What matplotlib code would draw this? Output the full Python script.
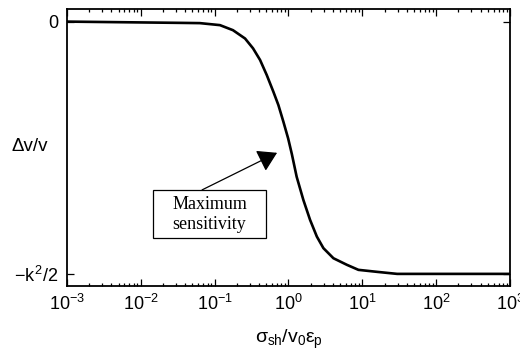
import matplotlib
matplotlib.use('Agg')
import matplotlib.pyplot as plt
from matplotlib.patches import Rectangle
from matplotlib.ticker import LogLocator, NullFormatter

# ====== DATA ====== #
sigma_ratio = [1e-3, 0.034, 0.063, 0.118, 0.177, 0.258, 0.331, 0.412, 0.508,
               0.624, 0.730, 0.853, 0.989, 1.11, 1.29, 1.59, 1.96, 2.42,
               2.97, 4.06, 6.17, 8.85, 15.9, 29.6, 1e3]
dv_over_v = [0.0, -0.005, -0.006, -0.014, -0.034, -0.067, -0.106, -0.152,
             -0.212, -0.278, -0.331, -0.397, -0.463, -0.525, -0.615, -0.707,
             -0.786, -0.852, -0.898, -0.938, -0.964, -0.984, -0.992, -1.0,
             -1.0]   # in units of k^2/2

ytick_vals = [-1.0, 0.0]
ytick_labels = [r'$-k^2/2$', '0']
xtick_vals = [1e-3, 1e-2, 1e-1, 1e0, 1e1, 1e2, 1e3]
arrow_target = (0.70, -0.52)   # point of maximum slope

plt.rcParams['font.family'] = ['Liberation Sans', 'DejaVu Sans']
plt.rcParams['mathtext.fontset'] = 'custom'
plt.rcParams['mathtext.rm'] = 'Liberation Sans'
plt.rcParams['mathtext.it'] = 'Liberation Sans'
plt.rcParams['mathtext.bf'] = 'Liberation Sans:bold'

fig = plt.figure(figsize=(5.2, 3.54), dpi=100)
ax = fig.add_axes([0.1288, 0.1921, 0.852, 0.7825])

ax.plot(sigma_ratio, dv_over_v, color='black', lw=1.9)

ax.set_xscale('log')
ax.set_xlim(1e-3, 1e3)
ax.set_ylim(-1.048, 0.05)

ax.set_xticks(xtick_vals)
ax.xaxis.set_minor_locator(LogLocator(base=10, subs=range(2, 10), numticks=20))
ax.xaxis.set_minor_formatter(NullFormatter())
ax.set_yticks(ytick_vals, ytick_labels)

ax.tick_params(which='both', direction='in', top=True, right=True,
               labelsize=13, width=0.9, pad=6)
ax.tick_params(which='major', length=5)
ax.tick_params(which='minor', length=2.5)
for sp in ax.spines.values():
    sp.set_linewidth(1.3)

ax.set_ylabel('Δv/v', rotation=0, fontsize=13.5, ha='center', va='center')
ax.yaxis.set_label_coords(-0.084, 0.502)
ax.set_xlabel(r'$\sigma_{\rm sh}/v_0\varepsilon_p$', fontsize=14, va='top')
ax.xaxis.set_label_coords(0.5, -0.15)

# ====== annotation box + arrow ====== #
box = Rectangle((0.194, 0.173), 0.255, 0.174, transform=ax.transAxes,
                facecolor='white', edgecolor='black', lw=0.9, zorder=3)
ax.add_patch(box)
ax.text(0.3217, 0.258, 'Maximum\nsensitivity', transform=ax.transAxes,
        ha='center', va='center', fontsize=13, family='Liberation Serif',
        linespacing=1.3, zorder=4)
ax.annotate('', xy=arrow_target, xycoords='data',
            xytext=(0.305, 0.347), textcoords='axes fraction',
            arrowprops=dict(arrowstyle='-|>,head_length=0.9,head_width=0.55',
                            color='black', lw=0.9, shrinkA=0, shrinkB=0,
                            mutation_scale=13))

plt.savefig('out.png', dpi=100)
